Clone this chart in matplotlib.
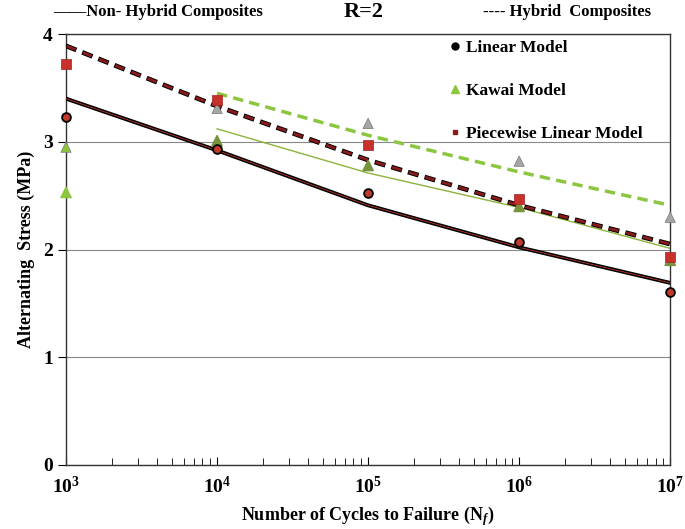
import numpy as np
import matplotlib
matplotlib.use("Agg")
import matplotlib.pyplot as plt
from matplotlib.lines import Line2D

plt.rcParams['font.family'] = ['Liberation Serif', 'DejaVu Serif']
plt.rcParams['font.weight'] = 'bold'
plt.rcParams['mathtext.fontset'] = 'custom'
plt.rcParams['mathtext.rm'] = 'Liberation Serif:bold'
plt.rcParams['mathtext.bf'] = 'Liberation Serif:bold'
plt.rcParams['mathtext.it'] = 'Liberation Serif:bold:italic'
plt.rcParams['lines.scale_dashes'] = False

# cycles
N = [1e3, 1e4, 1e5, 1e6, 1e7]
N_kawai = [1e4, 1e5, 1e6, 1e7]

# fitted curves
nonhyb_pw = [3.40, 2.92, 2.41, 2.02, 1.69]
hyb_pw = [3.89, 3.33, 2.83, 2.41, 2.05]
nonhyb_kawai = [3.12, 2.71, 2.39, 2.01]
hyb_kawai = [3.45, 3.06, 2.72, 2.41]

# model points
linear_pts = [3.23, 2.93, 2.52, 2.07, 1.61]
kawai_nh_pts = [2.53, 3.01, 2.78, 2.40, 1.90]
kawai_h_pts = [2.95, 3.31, 3.17, 2.82, 2.30]
pw_pts = [3.72, 3.39, 2.97, 2.47, 1.93]

green = '#8CC63F'
olive = '#77933C'
gray = '#A6A6A6'
dred = '#8B1A1A'
red = '#C0392B'

fig = plt.figure(figsize=(6.85, 5.29), dpi=100)
ax = fig.add_axes([0.0964, 0.121, 0.882, 0.8147])

# curves
ax.plot(N_kawai, nonhyb_kawai, color='#8DB33A', lw=1.0, zorder=2)
ax.plot(N_kawai, hyb_kawai, color=green, lw=2.5, ls=(0, (7.5, 4.5)), zorder=2)
ax.plot(N, nonhyb_pw, color='black', lw=2.8, zorder=3)
ax.plot(N, nonhyb_pw, color=red, lw=0.6, zorder=3)
ax.plot(N, hyb_pw, color='black', lw=3.4, ls=(0, (8.0, 4.5)), zorder=3)
ax.plot(N, hyb_pw, color=dred, lw=2.0, ls=(-0.6, (6.8, 5.7)), zorder=3)

# points
kawai_nh_cols = [green, olive, olive, olive, olive]
kawai_h_cols = [green, gray, gray, gray, gray]
ax.scatter(N, kawai_nh_pts, marker='^', s=55, c=kawai_nh_cols, zorder=4, clip_on=False)
ax.scatter(N, kawai_h_pts, marker='^', s=55, c=kawai_h_cols, edgecolors='#777777',
           linewidths=0.5, zorder=4, clip_on=False)
ax.scatter(N, linear_pts, marker='o', s=40, c=red, edgecolors='black', linewidths=1.3,
           zorder=5, clip_on=False)
ax.scatter(N, pw_pts, marker='s', s=50, c='#C8302C', edgecolors='#A02020', linewidths=0.5,
           zorder=6, clip_on=False)

ax.set_xscale('log')
ax.set_xlim(1e3, 1e7)
ax.set_ylim(0, 4)
ax.set_yticks([0, 1, 2, 3, 4])
ax.set_xticks(N)
ax.set_xticklabels([r'$\mathbf{10^{%d}}$' % e for e in range(3, 8)])
ax.yaxis.grid(True, color='#888888', lw=0.8)
ax.set_axisbelow(True)
ax.tick_params(axis='x', which='both', direction='in', labelsize=14, pad=8)
ax.tick_params(axis='x', which='major', length=6)
ax.tick_params(axis='x', which='minor', length=5)
ax.tick_params(axis='y', direction='out', length=6, labelsize=14)
for lab in ax.get_yticklabels():
    lab.set_fontweight('bold')
for s in ax.spines.values():
    s.set_color('#333333')
    s.set_linewidth(1.0)

ax.set_xlabel(r'Number of Cycles to Failure (N$_f$)', fontsize=13, fontweight='bold', labelpad=5)
ax.set_ylabel('Alternating  Stress (MPa)', fontsize=13, fontweight='bold', labelpad=6)

handles = [
    Line2D([], [], marker='o', color='black', ls='none', markersize=5),
    Line2D([], [], marker='^', color=green, ls='none', markersize=6),
    Line2D([], [], marker='s', color=dred, ls='none', markersize=3),
]
ax.legend(handles, ['Linear Model', 'Kawai Model', 'Piecewise Linear Model'],
          loc='upper left', bbox_to_anchor=(0.61, 1.015), frameon=False,
          fontsize=12.5, labelspacing=1.55, handletextpad=0.1, handlelength=1.0,
          borderaxespad=0.3)

fig.text(0.077, 0.977, '\u2014\u2014Non- Hybrid Composites', fontsize=12, fontweight='bold',
         va='center', ha='left')
fig.text(0.531, 0.977, 'R=2', fontsize=16, fontweight='bold', va='center', ha='center')
fig.text(0.705, 0.977, '---- Hybrid  Composites', fontsize=12, fontweight='bold',
         va='center', ha='left')

fig.savefig('out.png', dpi=100)
